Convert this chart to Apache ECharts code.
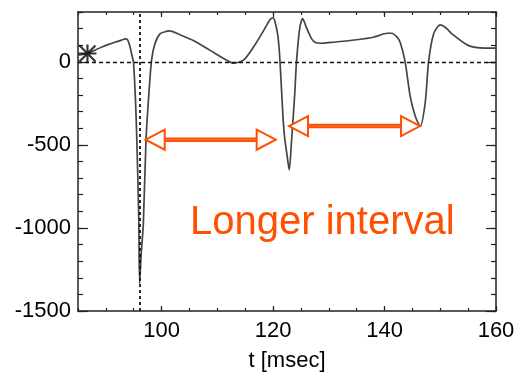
<!DOCTYPE html>
<html>
<head>
<meta charset="utf-8">
<script src="https://cdn.jsdelivr.net/npm/echarts@6/dist/echarts.min.js"></script>
<style>
  html, body { margin: 0; padding: 0; background: #fff; }
  #chart { width: 519px; height: 377px; }
</style>
</head>
<body>
<div id="chart"></div>
<script>
// time axis (msec) and signal values
const tValues = [85.0, 86.7, 88.0, 89.3, 90.5, 91.6, 92.8, 93.5, 93.9, 94.3, 94.7, 94.95, 95.3, 95.55, 95.9, 96.05,
  96.35, 96.72, 97.2, 97.7, 98.2, 98.8, 99.7, 100.8, 101.4, 103.5, 105.7, 108.7, 111.7, 112.9, 114.7, 116.5, 118.3,
  119.5, 120.05, 120.5, 120.9, 121.25, 121.8, 122.1, 122.5, 122.9, 123.3, 123.9, 124.2, 124.8, 125.3, 126.0, 126.9,
  127.5, 128.5, 130.8, 135, 138, 140.5, 141.3, 142.2, 142.8, 143.7, 144.6, 145.5, 146.4, 147.3, 147.9, 148.8, 150,
  151, 152.1, 155, 158, 160]
const signal = [40, 50, 70, 89, 105, 118, 131, 138, 132, 95, 35, 0, -220, -464, -937, -1334,
  -1150, -977, -474, -200, 10, 109, 168, 183, 186, 160, 128, 69, 10, -8, 10, 89, 188,
  257, 265, 220, 148, 0, -345, -463, -560, -651, -483, -187, 0, 207, 260, 205, 140,
  118, 112, 118, 133, 148, 172, 172, 150, 118, 0, -207, -326, -389, -246, 0, 168, 223,
  205, 168, 99, 83, 83]

const xTicks = [100, 120, 140, 160]
const yTicks = [-1500, -1000, -500, 0]
const markerT = 96
const starPoint = [86.7, 50]

// the two "interval" arrows: start t, end t, level
const arrowStart = [97.15, 122.86]
const arrowEnd = [120.47, 146.37]
const arrowLevel = [-469, -387]

const orange = '#ff4f00'
const axisColor = '#222'
const labelFont = { fontSize: 22, color: '#000', fontFamily: 'Liberation Sans, Arial, sans-serif' }

const star = 'path://M0 8.8L20 8.8L20 11.2L0 11.2Z M8.8 0L11.2 0L11.2 20L8.8 20Z ' +
  'M0.3 2L2 0.3L19.7 18L18 19.7Z M18 0.3L19.7 2L2 19.7L0.3 18Z'

function xAxisDef(pos, major, showLabel) {
  const ax = {
    type: 'value', position: pos, min: 85, max: 160,
    splitLine: { show: false },
    axisLine: { show: major, onZero: false, lineStyle: { color: axisColor, width: 1.5 } },
    axisTick: { inside: true, length: major ? 5 : 3, lineStyle: { color: axisColor, width: 1.2 } },
    axisLabel: { show: showLabel, margin: 9, formatter: v => String(v), ...labelFont }
  }
  if (major) {
    ax.axisTick.customValues = xTicks
    ax.axisLabel.customValues = xTicks
  } else {
    ax.interval = 5
  }
  return ax
}

function yAxisDef(pos, major, showLabel) {
  const ax = {
    type: 'value', position: pos, min: -1500, max: 300,
    splitLine: { show: false },
    axisLine: { show: major, onZero: false, lineStyle: { color: axisColor, width: 1.5 } },
    axisTick: { inside: true, length: major ? 10 : 5, lineStyle: { color: axisColor, width: 1.2 } },
    axisLabel: { show: showLabel, margin: 7, formatter: v => String(v), ...labelFont }
  }
  if (major) {
    ax.axisTick.customValues = yTicks
    ax.axisLabel.customValues = yTicks
  } else {
    ax.interval = 100
  }
  return ax
}

const bottomAxis = xAxisDef('bottom', true, true)
bottomAxis.name = 't [msec]'
bottomAxis.nameLocation = 'middle'
bottomAxis.nameGap = 39
bottomAxis.nameTextStyle = labelFont

const chart = echarts.init(document.getElementById('chart'))
chart.setOption({
  animation: false,
  backgroundColor: '#fff',
  grid: { left: 78, top: 12, right: 23, bottom: 62 },
  xAxis: [bottomAxis, xAxisDef('bottom', false, false), xAxisDef('top', true, false), xAxisDef('top', false, false)],
  yAxis: [yAxisDef('left', true, true), yAxisDef('left', false, false), yAxisDef('right', true, false), yAxisDef('right', false, false)],
  graphic: [{
    type: 'text', left: 190, top: 203,
    style: { text: 'Longer interval', fill: orange, fontSize: 40, fontFamily: 'Liberation Sans, Arial, sans-serif' }
  }],
  series: [
    {
      type: 'line',
      data: tValues.map((t, i) => [t, signal[i]]),
      showSymbol: false,
      smooth: 0.25,
      lineStyle: { color: '#444', width: 1.7 },
      markLine: {
        silent: true,
        symbol: 'none',
        label: { show: false },
        data: [
          { yAxis: 0, lineStyle: { type: [4, 3], color: '#111', width: 1.3 } },
          { xAxis: markerT, lineStyle: { type: [3, 3], color: '#111', width: 1.8 } }
        ]
      },
      z: 3
    },
    {
      type: 'scatter',
      data: [starPoint],
      symbol: star,
      symbolSize: 18,
      itemStyle: { color: '#000' },
      z: 4
    },
    {
      type: 'custom',
      data: arrowStart.map((s, i) => [s, arrowEnd[i], arrowLevel[i]]),
      renderItem: function (params, api) {
        const a = api.coord([api.value(0), api.value(2)])
        const b = api.coord([api.value(1), api.value(2)])
        const len = 19, half = 10
        const y = a[1]
        return {
          type: 'group',
          children: [
            { type: 'line', shape: { x1: a[0] + len - 2, y1: y, x2: b[0] - len + 2, y2: y }, style: { stroke: orange, lineWidth: 4.5 } },
            { type: 'line', shape: { x1: a[0] + len, y1: y, x2: b[0] - len, y2: y }, style: { stroke: '#ff7a3a', lineWidth: 1 } },
            { type: 'polygon', shape: { points: [[a[0], y], [a[0] + len, y - half], [a[0] + len, y + half]] }, style: { fill: '#fff', stroke: orange, lineWidth: 2 } },
            { type: 'polygon', shape: { points: [[b[0], y], [b[0] - len, y - half], [b[0] - len, y + half]] }, style: { fill: '#fff', stroke: orange, lineWidth: 2 } }
          ]
        }
      },
      z: 5
    }
  ]
})
</script>
</body>
</html>
